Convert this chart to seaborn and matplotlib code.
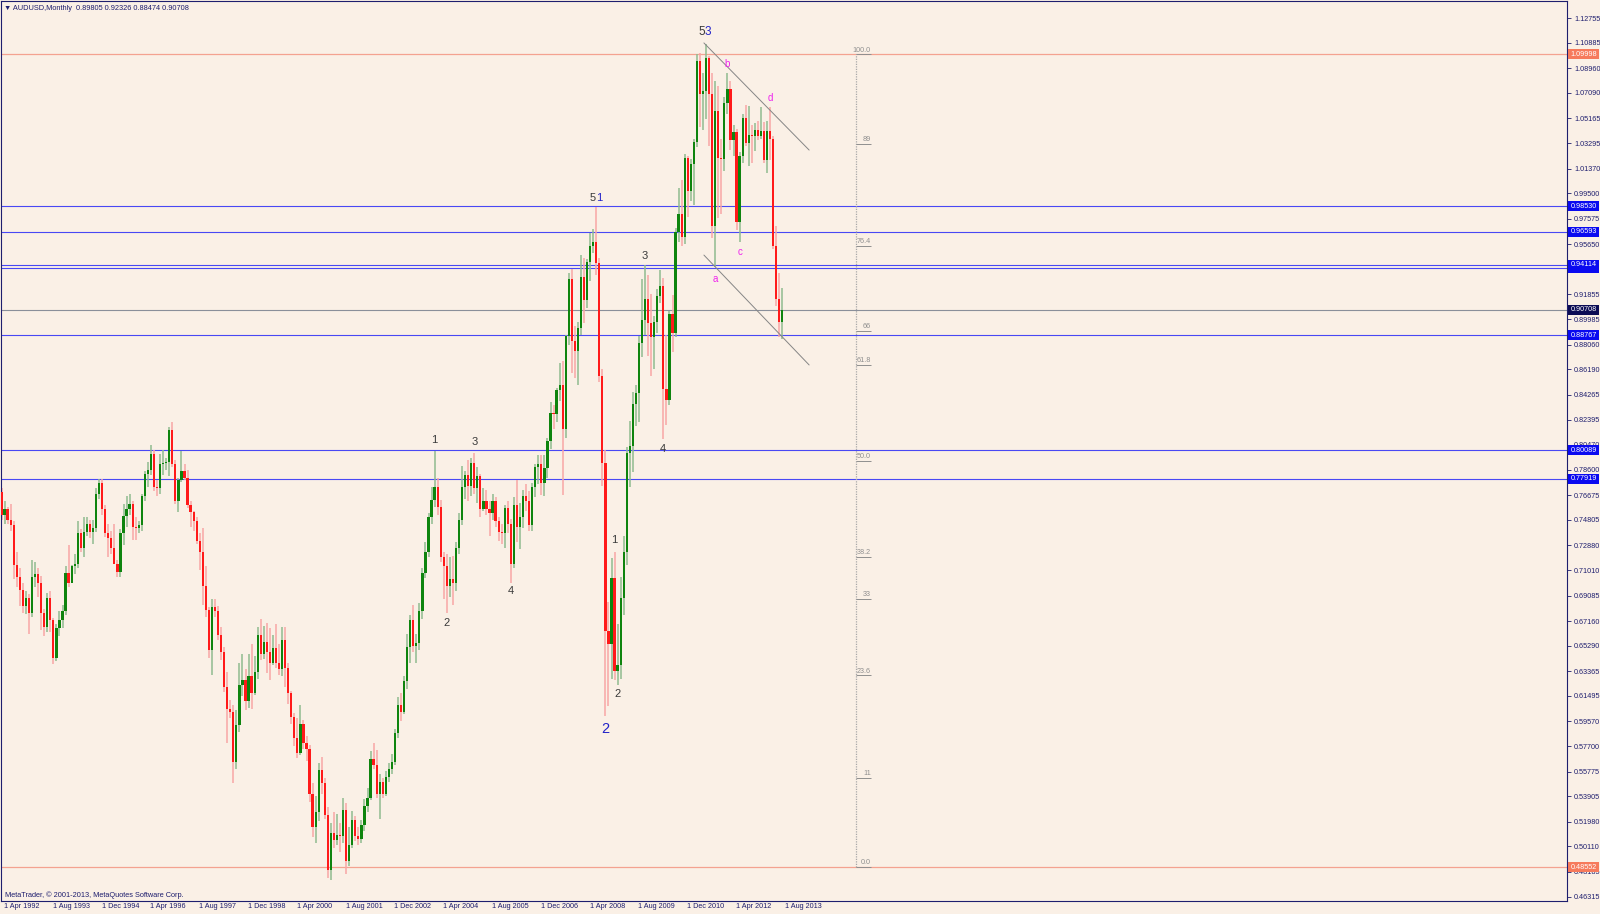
"""
AUDUSD monthly candlestick chart in the MetaTrader style
(wave counts, trend channel, fibonacci levels, price tags).
"""

import matplotlib

matplotlib.use("Agg")
import matplotlib.pyplot as plt
import matplotlib.transforms as mtransforms
from matplotlib.patches import Rectangle
import numpy as np
import pandas as pd
import seaborn as sns

# ---------------------------------------------------------------------------
# Data: one bar per month, 1 Apr 1992 .. 1 Aug 2013 (open = previous close)
# ---------------------------------------------------------------------------
first_open = 0.769

closes = [
    0.752, 0.756, 0.748, 0.744, 0.714, 0.705, 0.695, 0.683, 0.689, 0.678,
    0.705, 0.707, 0.700, 0.678, 0.667, 0.689, 0.672, 0.644, 0.666, 0.672,
    0.679, 0.708, 0.700, 0.713, 0.715, 0.738, 0.727, 0.739, 0.745, 0.739,
    0.742, 0.768, 0.776, 0.756, 0.738, 0.734, 0.727, 0.715, 0.709, 0.738,
    0.751, 0.756, 0.760, 0.743, 0.742, 0.744, 0.766, 0.783, 0.786, 0.798,
    0.773, 0.772, 0.790, 0.791, 0.792, 0.816, 0.790, 0.762, 0.778, 0.785,
    0.780, 0.759, 0.754, 0.747, 0.732, 0.724, 0.698, 0.680, 0.650, 0.682,
    0.679, 0.661, 0.648, 0.622, 0.605, 0.603, 0.565, 0.593, 0.623, 0.627,
    0.611, 0.630, 0.617, 0.633, 0.661, 0.647, 0.656, 0.648, 0.640, 0.651,
    0.640, 0.635, 0.657, 0.636, 0.617, 0.599, 0.583, 0.572, 0.594, 0.579,
    0.575, 0.541, 0.516, 0.527, 0.559, 0.549, 0.525, 0.483, 0.511, 0.506,
    0.510, 0.509, 0.529, 0.490, 0.502, 0.521, 0.509, 0.507, 0.517, 0.532,
    0.538, 0.567, 0.563, 0.541, 0.550, 0.541, 0.554, 0.560, 0.565, 0.587,
    0.608, 0.603, 0.626, 0.652, 0.672, 0.653, 0.655, 0.679, 0.708, 0.724,
    0.750, 0.763, 0.773, 0.758, 0.720, 0.713, 0.698, 0.703, 0.700, 0.727,
    0.748, 0.773, 0.782, 0.774, 0.791, 0.772, 0.781, 0.756, 0.762, 0.756,
    0.753, 0.762, 0.747, 0.739, 0.738, 0.757, 0.745, 0.715, 0.759, 0.743,
    0.750, 0.766, 0.762, 0.744, 0.773, 0.788, 0.790, 0.776, 0.787, 0.808,
    0.829, 0.828, 0.846, 0.850, 0.817, 0.887, 0.930, 0.883, 0.876, 0.893,
    0.932, 0.914, 0.943, 0.955, 0.958, 0.942, 0.857, 0.791, 0.664, 0.654,
    0.704, 0.634, 0.638, 0.689, 0.724, 0.799, 0.804, 0.836, 0.844, 0.882,
    0.899, 0.915, 0.897, 0.886, 0.898, 0.917, 0.925, 0.847, 0.839, 0.904,
    0.889, 0.966, 0.979, 0.962, 1.022, 0.997, 1.017, 1.034, 1.095, 1.070,
    1.072, 1.097, 1.070, 0.970, 1.057, 1.022, 1.021, 1.063, 1.074, 1.035,
    1.041, 0.973, 1.023, 1.052, 1.033, 1.039, 1.038, 1.043, 1.038, 1.042,
    1.020, 1.042, 1.036, 0.955, 0.915, 0.898, 0.90708,
]

highs = [
    0.772, 0.762, 0.758, 0.760, 0.747, 0.724, 0.712, 0.700, 0.694, 0.692,
    0.718, 0.716, 0.712, 0.706, 0.681, 0.693, 0.694, 0.674, 0.669, 0.679,
    0.684, 0.713, 0.729, 0.714, 0.722, 0.747, 0.741, 0.750, 0.750, 0.748,
    0.748, 0.772, 0.779, 0.779, 0.759, 0.745, 0.740, 0.745, 0.718, 0.741,
    0.760, 0.766, 0.768, 0.762, 0.750, 0.747, 0.768, 0.785, 0.792, 0.805,
    0.801, 0.778, 0.798, 0.801, 0.795, 0.818, 0.822, 0.793, 0.780, 0.800,
    0.790, 0.786, 0.762, 0.755, 0.750, 0.738, 0.742, 0.713, 0.682, 0.688,
    0.688, 0.683, 0.667, 0.652, 0.633, 0.612, 0.608, 0.604, 0.640, 0.647,
    0.635, 0.647, 0.654, 0.645, 0.667, 0.673, 0.668, 0.670, 0.666, 0.661,
    0.669, 0.654, 0.667, 0.667, 0.640, 0.619, 0.602, 0.598, 0.608, 0.597,
    0.585, 0.578, 0.549, 0.539, 0.564, 0.569, 0.553, 0.531, 0.519, 0.527,
    0.526, 0.519, 0.538, 0.534, 0.516, 0.528, 0.524, 0.516, 0.521, 0.537,
    0.545, 0.573, 0.579, 0.574, 0.556, 0.553, 0.558, 0.564, 0.571, 0.590,
    0.614, 0.617, 0.630, 0.662, 0.676, 0.684, 0.662, 0.685, 0.712, 0.731,
    0.753, 0.773, 0.800, 0.780, 0.763, 0.724, 0.722, 0.720, 0.721, 0.731,
    0.753, 0.789, 0.785, 0.793, 0.795, 0.799, 0.788, 0.783, 0.772, 0.771,
    0.762, 0.768, 0.765, 0.750, 0.745, 0.759, 0.762, 0.749, 0.765, 0.778,
    0.761, 0.771, 0.775, 0.770, 0.776, 0.790, 0.797, 0.797, 0.797, 0.810,
    0.837, 0.835, 0.848, 0.867, 0.868, 0.888, 0.935, 0.938, 0.895, 0.898,
    0.948, 0.946, 0.945, 0.965, 0.968, 0.985, 0.946, 0.862, 0.801, 0.686,
    0.719, 0.724, 0.669, 0.705, 0.736, 0.803, 0.823, 0.845, 0.850, 0.887,
    0.930, 0.941, 0.933, 0.919, 0.902, 0.923, 0.937, 0.931, 0.888, 0.906,
    0.918, 0.969, 0.999, 1.005, 1.025, 1.023, 1.021, 1.036, 1.100, 1.101,
    1.086, 1.108, 1.099, 1.086, 1.080, 1.076, 1.036, 1.068, 1.086, 1.080,
    1.047, 1.044, 1.026, 1.055, 1.062, 1.061, 1.047, 1.048, 1.050, 1.060,
    1.049, 1.050, 1.060, 1.038, 0.970, 0.935, 0.92326,
]

lows = [
    0.748, 0.745, 0.745, 0.740, 0.703, 0.697, 0.683, 0.678, 0.677, 0.662,
    0.675, 0.697, 0.690, 0.665, 0.660, 0.663, 0.663, 0.639, 0.641, 0.660,
    0.666, 0.676, 0.697, 0.700, 0.707, 0.712, 0.724, 0.720, 0.736, 0.734,
    0.730, 0.739, 0.764, 0.752, 0.735, 0.720, 0.722, 0.715, 0.705, 0.705,
    0.729, 0.743, 0.752, 0.733, 0.733, 0.738, 0.740, 0.762, 0.773, 0.782,
    0.770, 0.766, 0.768, 0.782, 0.786, 0.781, 0.788, 0.760, 0.754, 0.777,
    0.778, 0.757, 0.743, 0.740, 0.730, 0.710, 0.684, 0.675, 0.644, 0.631,
    0.675, 0.657, 0.642, 0.618, 0.579, 0.598, 0.549, 0.560, 0.588, 0.615,
    0.604, 0.606, 0.605, 0.616, 0.628, 0.642, 0.643, 0.632, 0.627, 0.638,
    0.636, 0.631, 0.630, 0.622, 0.609, 0.594, 0.577, 0.568, 0.570, 0.575,
    0.566, 0.535, 0.508, 0.504, 0.520, 0.541, 0.522, 0.477, 0.476, 0.500,
    0.502, 0.497, 0.504, 0.480, 0.486, 0.500, 0.505, 0.502, 0.504, 0.513,
    0.527, 0.536, 0.560, 0.538, 0.522, 0.538, 0.539, 0.550, 0.556, 0.563,
    0.583, 0.596, 0.601, 0.620, 0.640, 0.648, 0.640, 0.650, 0.673, 0.704,
    0.720, 0.745, 0.758, 0.752, 0.716, 0.688, 0.678, 0.690, 0.684, 0.694,
    0.722, 0.744, 0.764, 0.762, 0.766, 0.768, 0.761, 0.750, 0.755, 0.752,
    0.736, 0.748, 0.743, 0.732, 0.730, 0.727, 0.738, 0.700, 0.712, 0.731,
    0.726, 0.742, 0.755, 0.740, 0.740, 0.765, 0.775, 0.767, 0.766, 0.780,
    0.802, 0.817, 0.822, 0.838, 0.767, 0.810, 0.880, 0.859, 0.855, 0.850,
    0.888, 0.897, 0.908, 0.929, 0.950, 0.933, 0.852, 0.774, 0.600, 0.607,
    0.628, 0.627, 0.623, 0.628, 0.676, 0.714, 0.773, 0.784, 0.819, 0.822,
    0.871, 0.888, 0.872, 0.857, 0.862, 0.889, 0.912, 0.809, 0.820, 0.835,
    0.875, 0.886, 0.958, 0.955, 0.957, 0.977, 0.989, 0.986, 1.030, 1.045,
    1.043, 1.051, 1.031, 0.961, 0.939, 0.976, 0.979, 1.012, 1.055, 1.028,
    1.023, 0.967, 0.958, 1.018, 1.031, 1.016, 1.018, 1.027, 1.035, 1.036,
    1.018, 1.010, 1.020, 0.953, 0.910, 0.886, 0.88474,
]

assert len(closes) == len(highs) == len(lows) == 257

date_labels = [
    "1 Apr 1992", "1 Aug 1993", "1 Dec 1994", "1 Apr 1996", "1 Aug 1997",
    "1 Dec 1998", "1 Apr 2000", "1 Aug 2001", "1 Dec 2002", "1 Apr 2004",
    "1 Aug 2005", "1 Dec 2006", "1 Apr 2008", "1 Aug 2009", "1 Dec 2010",
    "1 Apr 2012", "1 Aug 2013",
]
date_bars = list(range(0, 257, 16))

price_ticks = [
    1.12755, 1.10885, 1.08960, 1.07090, 1.05165, 1.03295, 1.01370, 0.99500,
    0.97575, 0.95650, 0.93780, 0.91855, 0.89985, 0.88060, 0.86190, 0.84265,
    0.82395, 0.80470, 0.78600, 0.76675, 0.74805, 0.72880, 0.71010, 0.69085,
    0.67160, 0.65290, 0.63365, 0.61495, 0.59570, 0.57700, 0.55775, 0.53905,
    0.51980, 0.50110, 0.48185, 0.46315,
]

# horizontal levels drawn on the chart
blue_levels = [0.98530, 0.96593, 0.93820, 0.94114, 0.88767, 0.80089, 0.77919]
red_levels = [1.09998, 0.48552]
last_close = 0.90708

# fibonacci retracement between the two red levels
fib_low, fib_high = 0.48552, 1.09998
fib_pcts = [0.0, 11, 23.6, 33, 38.2, 50.0, 61.8, 66, 76.4, 89, 100.0]
fib_texts = ["0.0", "11", "23.6", "33", "38.2", "50.0", "61.8", "66", "76.4", "89", "100.0"]

# trend channel (bar, price) end points
upper_line = ([230.3, 264.8], [1.1087, 1.0277])
lower_line = ([230.3, 264.8], [0.9483, 0.8652])

# wave labels: text, bar, anchor, colour, size, dx px, dy px
GREY, BLUE, PINK = "#3a3a3a", "#2323c8", "#ee22ee"
wave_marks = [
    ("5", 231, "high", GREY, 8.5, -4, 12), ("3", 231, "high", BLUE, 8.5, 2, 12),
    ("5", 195, "high", GREY, 8, -4, 9), ("1", 195, "high", BLUE, 8, 3, 9),
    ("3", 211, "high", GREY, 8, 0, 9),
    ("4", 217, "low", GREY, 8, -1, -10),
    ("1", 201, "high", GREY, 8, 0, 12),
    ("2", 202, "low", GREY, 8, 0, -9),
    ("2", 198, "low", BLUE, 10.5, 0, -13),
    ("1", 142, "high", GREY, 8, 0, 11),
    ("3", 155, "high", GREY, 8, 0, 11),
    ("2", 146, "low", GREY, 8, 0, -10),
    ("4", 167, "low", GREY, 8, 0, -8),
    ("b", 238, "high", PINK, 7, 0, 9),
    ("d", 252, "high", PINK, 7, 0, 9),
    ("c", 242, "low", PINK, 7, 0, -10),
    ("a", 234, "low", PINK, 7, 0, -12),
]

# ---------------------------------------------------------------------------
# Style
# ---------------------------------------------------------------------------
BG = "#faf0e6"
NAVY = "#1e1e6e"
BULL, BEAR = "#0e840e", "#ff1a1a"
BULL_WICK, BEAR_WICK = "#8fbb8f", "#f8a6a6"
LEVEL_BLUE, TAG_BLUE = "#4848f4", "#0a0af0"
LEVEL_RED, TAG_RED = "#f4a290", "#f67a5c"

sns.set_theme(style="white")
plt.rcParams["font.family"] = ["Liberation Sans", "DejaVu Sans"]

W, H = 1600, 914
fig = plt.figure(figsize=(W / 100, H / 100), dpi=100, facecolor=BG)
ax = fig.add_axes([1 / W, 13 / H, 1566 / W, 900 / H])
ax.set_facecolor(BG)

PX_PER_BAR = 3.05
x0 = -0.164
ax.set_xlim(x0, x0 + 1566 / PX_PER_BAR)
ax.set_ylim(0.45988, 1.14041)

bars = pd.DataFrame({"close": closes, "high": highs, "low": lows})
bars["open"] = [first_open] + closes[:-1]
bars["bar"] = np.arange(len(bars))
up = (bars["close"] >= bars["open"]).to_numpy()
body_lo = np.minimum(bars["open"], bars["close"])
body_h = np.maximum((bars["close"] - bars["open"]).abs(), 0.0008)

# horizontal levels (under the candles)
for lv in blue_levels:
    ax.axhline(lv, color=LEVEL_BLUE, lw=0.8, zorder=1)
for lv in red_levels:
    ax.axhline(lv, color=LEVEL_RED, lw=0.9, zorder=1)
ax.axhline(last_close, color="#8a8f9a", lw=0.8, zorder=1)

# candles
ax.vlines(bars["bar"], bars["low"], bars["high"],
          colors=np.where(up, BULL_WICK, BEAR_WICK), lw=1.1, zorder=2)
ax.bar(bars["bar"], body_h, bottom=body_lo, width=0.74,
       color=np.where(up, BULL, BEAR), linewidth=0, zorder=3)

# trend channel
for xs, ys in (upper_line, lower_line):
    sns.lineplot(x=xs, y=ys, ax=ax, color="#858585", lw=0.7, zorder=2)

# fibonacci tool
fib_x, fib_x2 = 280.1, 285.0
ax.vlines(fib_x, fib_low, fib_high, colors="#a8a8a8", linestyles=(0, (1, 1)), lw=0.9)
for pct, txt in zip(fib_pcts, fib_texts):
    lv = fib_low + (fib_high - fib_low) * pct / 100
    ax.hlines(lv, fib_x, fib_x2, colors="#8f8f8f", lw=0.7)
    ax.text(fib_x2, lv + 0.0006, txt, ha="right", va="bottom", fontsize=5.2,
            color="#8f8f8f")

# wave counts
for txt, b, anchor, col, size, dx, dy in wave_marks:
    price = highs[b] if anchor == "high" else lows[b]
    ax.annotate(txt, xy=(b, price), xytext=(dx * 0.72, dy * 0.72),
                textcoords="offset points", ha="center", va="center",
                fontsize=size, color=col)

# axes / ticks
for sp in ax.spines.values():
    sp.set_color(NAVY)
    sp.set_linewidth(0.8)
ax.yaxis.tick_right()
ax.set_yticks(price_ticks)
ax.set_yticklabels([f"{p:.5f}" for p in price_ticks])
ax.tick_params(axis="y", direction="out", length=3, width=0.6, colors=NAVY,
               labelsize=5.2, pad=2, labelcolor=NAVY)
ax.set_xticks(date_bars)
ax.set_xticklabels(date_labels)
ax.tick_params(axis="x", direction="out", length=6, width=0.6, colors=NAVY,
               labelsize=5.2, pad=-4.6, labelcolor=NAVY)
shift = mtransforms.ScaledTranslation(2.5 / 100, 0, fig.dpi_scale_trans)
for lab in ax.get_xticklabels():
    lab.set_horizontalalignment("left")
    lab.set_transform(lab.get_transform() + shift)
ax.grid(False)

# price tags on the right scale (each tag stacked over the previous one);
# the 0.93820 tag sits almost fully under the 0.94114 one, so only its box shows
tag_tr = mtransforms.blended_transform_factory(ax.transAxes, ax.transData)
half_h = 5 / 1322.5
tags = [(lv, TAG_BLUE) for lv in blue_levels]
tags += [(lv, TAG_RED) for lv in red_levels] + [(last_close, "#0c0c55")]
for k, (lv, col) in enumerate(tags):
    ax.add_patch(Rectangle((1 + 1 / 1566, lv - half_h), 31 / 1566, 2 * half_h,
                           transform=tag_tr, facecolor=col, edgecolor="none",
                           clip_on=False, zorder=5 + 2 * k))
    if lv == 0.93820:
        continue
    ax.text(1 + 16.5 / 1566, lv, f"{lv:.5f}", transform=tag_tr, ha="center",
            va="center", fontsize=5.2, color="white", clip_on=False,
            zorder=6 + 2 * k)

# header and copyright
fig.text(4 / W, 1 - 8 / H, "\u25bc AUDUSD,Monthly  0.89805 0.92326 0.88474 0.90708",
         ha="left", va="center", fontsize=5.3, color=NAVY)
fig.text(5 / W, 1 - 895 / H, "MetaTrader, \u00a9 2001-2013, MetaQuotes Software Corp.",
         ha="left", va="center", fontsize=5.3, color=NAVY)

fig.savefig("out.png", dpi=100, facecolor=BG)
